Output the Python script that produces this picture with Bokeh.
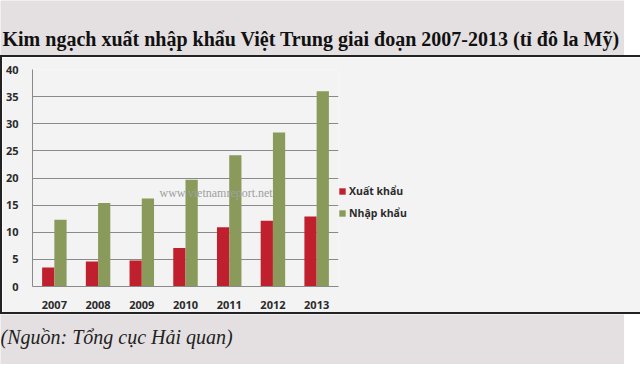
from bokeh.plotting import figure
from bokeh.layouts import column, row
from bokeh.models import (FactorRange, Range1d, Legend, LegendItem, Label, Spacer,
                          SingleIntervalTicker)
from bokeh.transform import dodge
from bokeh.embed import file_html
from bokeh.resources import INLINE

years = ["2007", "2008", "2009", "2010", "2011", "2012", "2013"]
exports = [3.5, 4.6, 4.8, 7.1, 10.9, 12.1, 12.9]
imports = [12.3, 15.4, 16.2, 19.7, 24.2, 28.4, 36.0]
series_names = ["Xuất khẩu", "Nhập khẩu"]
title_text = "Kim ngạch xuất nhập khẩu Việt Trung giai đoạn 2007-2013 (tỉ đô la Mỹ)"
source_text = "(Nguồn: Tổng cục Hải quan)"
watermark = "www.vietnamreport.net"

RED = "#c0202e"
GREEN = "#8a9a5a"
BG = "#e4e0e2"
PANEL = "#f3f3f3"

# ---- title strip ----
tf = figure(width=624, height=55, x_range=Range1d(0, 624), y_range=Range1d(0, 55),
            output_backend="svg", toolbar_location=None, x_axis_type=None, y_axis_type=None,
            min_border=0, border_fill_color=BG, background_fill_color=BG,
            outline_line_color=None)
tf.xgrid.visible = False
tf.ygrid.visible = False
tf.add_layout(Label(x=2, y=17, text=title_text, text_font="Liberation Serif",
                    text_font_style="bold", text_font_size="20px", text_color="#111111",
                    text_baseline="middle"))

# ---- chart ----
p = figure(x_range=FactorRange(*years), y_range=Range1d(0, 40),
           frame_width=302, frame_height=213, output_backend="svg", toolbar_location=None,
           min_border_left=30, min_border_right=75, min_border_top=12,
           min_border_bottom=30, border_fill_color=PANEL, background_fill_color=PANEL,
           outline_line_color=None,
           styles={"border": "2px solid #222222"})

src = dict(years=years, exports=exports, imports=imports)
r1 = p.vbar(x=dodge("years", -0.14, range=p.x_range), top="exports", width=0.28,
            source=src, fill_color=RED, line_color=None)
r2 = p.vbar(x=dodge("years", 0.14, range=p.x_range), top="imports", width=0.28,
            source=src, fill_color=GREEN, line_color=None)

p.yaxis.ticker = SingleIntervalTicker(interval=5)
p.ygrid.grid_line_color = "#8a8a8a"
p.xgrid.grid_line_color = None
for ax in (p.xaxis[0], p.yaxis[0]):
    ax.axis_line_color = "#8a8a8a"
    ax.major_tick_line_color = None
    ax.minor_tick_line_color = None
    ax.major_label_text_font = "Open Sans"
    ax.major_label_text_font_style = "bold"
    ax.major_label_text_font_size = "11px"
    ax.major_label_text_color = "#2a2a2a"
p.yaxis.major_label_standoff = 8
p.xaxis.major_label_standoff = 8

p.add_layout(Label(x=4.2, y=17.2, text=watermark, text_align="center", text_baseline="middle",
                   text_font="Liberation Serif", text_font_size="12px", text_color="#a0a0a0"))

legend = Legend(items=[LegendItem(label=series_names[0], renderers=[r1]),
                       LegendItem(label=series_names[1], renderers=[r2])],
                location=(0, 66), border_line_color=None, background_fill_alpha=0,
                label_text_font="Open Sans", label_text_font_size="10.5px",
                label_text_font_style="bold",
                label_text_color="#2a2a2a", glyph_width=8, glyph_height=8,
                spacing=8, label_standoff=3, padding=0, margin=12,
                label_height=14)
p.add_layout(legend, "right")

spacer = Spacer(width=210, height=258, styles={"background-color": BG})

# ---- source strip ----
sf = figure(width=624, height=50, x_range=Range1d(0, 624), y_range=Range1d(0, 50),
            output_backend="svg", toolbar_location=None, x_axis_type=None, y_axis_type=None,
            min_border=0, border_fill_color=BG, background_fill_color=BG,
            outline_line_color=None)
sf.xgrid.visible = False
sf.ygrid.visible = False
sf.add_layout(Label(x=0, y=28, text=source_text, text_font="Liberation Serif",
                    text_font_style="italic", text_font_size="20px", text_color="#222222",
                    text_baseline="middle"))

layout = column(tf, row(p, spacer), sf)
open("out.html", "w").write(file_html(layout, INLINE))
